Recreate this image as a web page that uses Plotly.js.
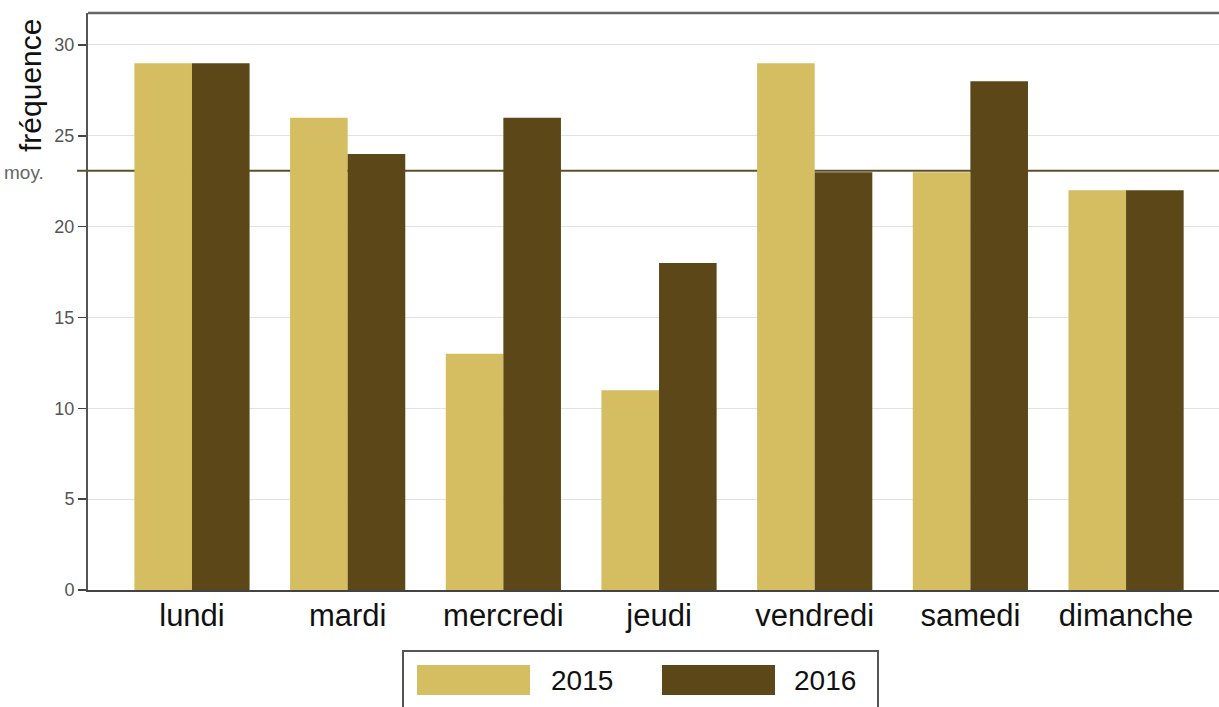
<!DOCTYPE html>
<html>
<head>
<meta charset="utf-8">
<script src="https://cdn.plot.ly/plotly-3.0.1.min.js"></script>
<style>html,body{margin:0;padding:0;background:#fff}#chart{width:1219px;height:707px}</style>
</head>
<body>
<div id="chart"></div>
<script>
var days = ["lundi","mardi","mercredi","jeudi","vendredi","samedi","dimanche"];
var seriesNames = ["2015","2016"];
var values2015 = [29,26,13,11,29,23,22];
var values2016 = [29,24,26,18,23,28,22];
var yTicks = [0,5,10,15,20,25,30];
var meanLabel = "moy.";
var yTitle = "fréquence";
var chartTitle = "2015 et 2016";

var colors = ["#d5be62","#5c4718"];
var all = values2015.concat(values2016);
var mean = all.reduce(function(a,b){return a+b;},0)/all.length;

var L=88,R=1219,T=13,B=590,W=1219,H=707;
function px(x){return (x-L)/(R-L);}
function py(y){return (B-y)/(B-T);}

var traces = [
 {type:"bar",x:days,y:values2015,name:seriesNames[0],marker:{color:colors[0]},hoverinfo:"x+y"},
 {type:"bar",x:days,y:values2016,name:seriesNames[1],marker:{color:colors[1]},hoverinfo:"x+y"}
];

var shapes = [
 {type:"line",layer:"below",xref:"paper",yref:"y",x0:px(77),x1:1,y0:mean,y1:mean,line:{color:"#5c4f2a",width:2}},
 {type:"rect",xref:"paper",yref:"paper",x0:px(403),x1:px(878),y0:py(651),y1:py(720),line:{color:"#555",width:2},fillcolor:"#fff"},
 {type:"rect",xref:"paper",yref:"paper",x0:px(417),x1:px(530),y0:py(665),y1:py(695),line:{width:0},fillcolor:colors[0]},
 {type:"rect",xref:"paper",yref:"paper",x0:px(662),x1:px(775),y0:py(665),y1:py(695),line:{width:0},fillcolor:colors[1]},
 {type:"line",xref:"paper",yref:"paper",x0:0,x1:1,y0:1,y1:1,line:{color:"#666",width:2.5}}
];

var annotations = [
 {xref:"paper",yref:"y",x:px(46),y:mean,xanchor:"right",yanchor:"middle",yshift:-2,text:meanLabel,showarrow:false,font:{size:19,color:"#666"}},
 {xref:"paper",yref:"paper",x:px(30),y:py(86),xanchor:"center",yanchor:"middle",textangle:-90,text:yTitle,showarrow:false,font:{size:30,color:"#111"}},
 {xref:"paper",yref:"paper",x:px(549),y:py(680),xanchor:"left",yanchor:"middle",text:seriesNames[0],showarrow:false,font:{size:28,color:"#111"}},
 {xref:"paper",yref:"paper",x:px(792),y:py(680),xanchor:"left",yanchor:"middle",text:seriesNames[1],showarrow:false,font:{size:28,color:"#111"}},
 {xref:"paper",yref:"paper",x:px(562),y:py(-4),xanchor:"center",yanchor:"bottom",text:chartTitle,showarrow:false,font:{size:22,color:"#333"}}
];

var layout = {
 width:W,height:H,
 margin:{l:L,r:W-R,t:T,b:H-B,pad:0},
 paper_bgcolor:"#fff",plot_bgcolor:"#fff",
 font:{family:"Liberation Sans, Arial, sans-serif",color:"#111"},
 showlegend:false,
 barmode:"group",bargap:0.26,bargroupgap:0,
 xaxis:{type:"category",range:[-0.668,6.597],showgrid:false,zeroline:false,
   showline:true,linecolor:"#444",linewidth:1.5,mirror:false,ticks:"",ticklabelstandoff:-3,
   tickfont:{size:31,color:"#111"},fixedrange:true},
 yaxis:{range:[0,31.76],tickvals:yTicks,showgrid:true,gridcolor:"#e2e2e2",gridwidth:1,
   zeroline:false,showline:true,linecolor:"#555",linewidth:2,ticks:"outside",ticklen:8,
   tickcolor:"#444",tickwidth:1.5,tickfont:{size:18,color:"#555"},fixedrange:true},
 shapes:shapes,
 annotations:annotations
};

Plotly.newPlot("chart",traces,layout,{displayModeBar:false,staticPlot:true});
</script>
</body>
</html>
